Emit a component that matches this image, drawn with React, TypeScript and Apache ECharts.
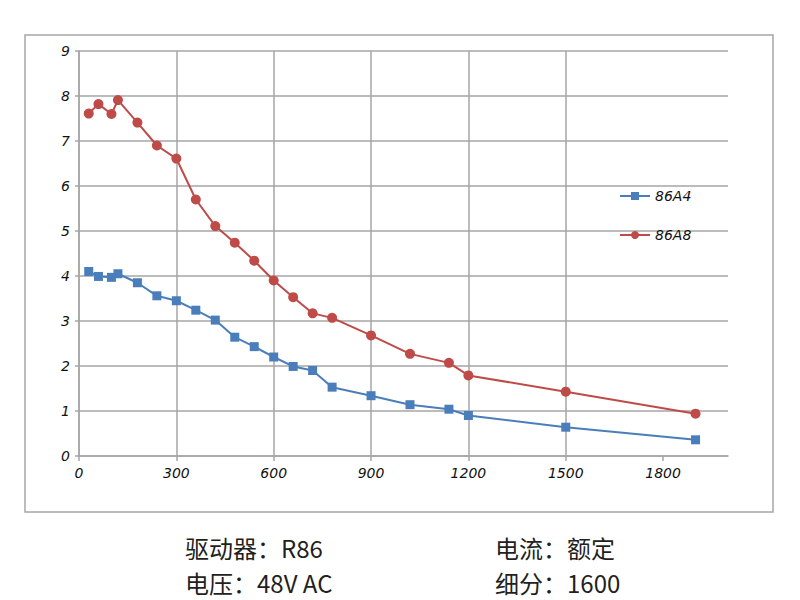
import React, { useEffect, useRef } from "react";
import * as echarts from "echarts";

const speeds = [30, 60, 100, 120, 180, 240, 300, 360, 420, 480, 540, 600, 660, 720, 780, 900, 1020, 1140, 1200, 1500, 1900];
const torque86A4 = [4.1, 3.99, 3.97, 4.05, 3.85, 3.56, 3.45, 3.24, 3.02, 2.64, 2.43, 2.2, 1.99, 1.9, 1.53, 1.34, 1.14, 1.04, 0.9, 0.64, 0.36];
const torque86A8 = [7.61, 7.82, 7.6, 7.91, 7.41, 6.9, 6.61, 5.7, 5.11, 4.74, 4.34, 3.9, 3.53, 3.17, 3.07, 2.68, 2.27, 2.07, 1.79, 1.43, 0.94];
const xTickValues = [0, 300, 600, 900, 1200, 1500, 1800];
const seriesNames = ["86A4", "86A8"];
const infoLeft = ["驱动器：R86", "电压：48V AC"];
const infoRight = ["电流：额定", "细分：1600"];

const GRID = "#a6a6a6";
const LABEL_FONT = { fontFamily: "DejaVu Sans", fontStyle: "italic" as const, fontSize: 14, color: "#111" };

export default function App() {
  const ref = useRef<HTMLDivElement>(null);
  useEffect(() => {
    document.body.style.margin = "0";
    const chart = echarts.init(ref.current!, null, { renderer: "svg" });
    const pair = (ys: number[]) => speeds.map((x, i) => [x, ys[i]]);
    const textStyle = { fontFamily: "Noto Sans CJK SC", fontSize: 24, fill: "#231f20" };
    chart.setOption({
      animation: false,
      backgroundColor: "#fff",
      grid: { left: 79, right: 72, top: 51, bottom: 144 },
      legend: {
        orient: "vertical",
        left: 619,
        top: 189,
        padding: 0,
        itemWidth: 30,
        itemHeight: 10,
        itemGap: 25,
        data: seriesNames,
        textStyle: { ...LABEL_FONT, fontSize: 14 },
      },
      xAxis: {
        type: "value",
        min: 0,
        max: 2000,
        interval: 300,
        axisLine: { show: true, lineStyle: { color: GRID, width: 1.5 } },
        axisTick: { show: true, length: 5, customValues: xTickValues, lineStyle: { color: GRID, width: 1.5 } },
        axisLabel: { ...LABEL_FONT, margin: 10, customValues: xTickValues, formatter: (v: number) => String(v) },
        splitLine: { show: true, showMaxLine: false, lineStyle: { color: GRID, width: 1.5 } },
      },
      yAxis: {
        type: "value",
        min: 0,
        max: 9,
        interval: 1,
        axisLine: { show: true, lineStyle: { color: GRID, width: 1.5 } },
        axisTick: { show: true, length: 4, lineStyle: { color: GRID, width: 1.5 } },
        axisLabel: { ...LABEL_FONT, margin: 9 },
        splitLine: { show: true, lineStyle: { color: GRID, width: 1.5 } },
      },
      series: [
        {
          name: seriesNames[0],
          type: "line",
          data: pair(torque86A4),
          symbol: "rect",
          symbolSize: 9,
          itemStyle: { color: "#4a7ebb" },
          lineStyle: { color: "#4a7ebb", width: 2 },
        },
        {
          name: seriesNames[1],
          type: "line",
          data: pair(torque86A8),
          symbol: "circle",
          symbolSize: 10,
          itemStyle: { color: "#be4b48" },
          lineStyle: { color: "#be4b48", width: 2 },
        },
      ],
      graphic: [
        {
          type: "rect",
          shape: { x: 25, y: 35, width: 748, height: 477 },
          style: { fill: "none", stroke: GRID, lineWidth: 1.5 },
          silent: true,
        },
        ...infoLeft.map((t, i) => ({
          type: "text",
          x: 185,
          y: 547 + i * 35,
          style: { ...textStyle, text: t, verticalAlign: "middle" },
        })),
        ...infoRight.map((t, i) => ({
          type: "text",
          x: 495,
          y: 547 + i * 35,
          style: { ...textStyle, text: t, verticalAlign: "middle" },
        })),
      ],
    });
    return () => chart.dispose();
  }, []);
  return <div ref={ref} style={{ position: "absolute", left: 0, top: 0, width: 800, height: 600 }} />;
}
